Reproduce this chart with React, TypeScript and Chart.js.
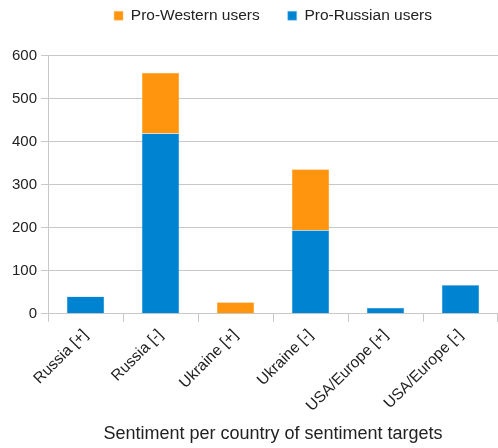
import React, { useEffect, useRef } from "react";
import { Chart, registerables } from "chart.js";

Chart.register(...registerables);

const categories = [
  "Russia [+]",
  "Russia [-]",
  "Ukraine [+]",
  "Ukraine [-]",
  "USA/Europe [+]",
  "USA/Europe [-]",
];
const proRussian = [40, 419, 0, 194, 14, 67];
const proWestern = [0, 141, 27, 142, 0, 0];
const yTicks = [0, 100, 200, 300, 400, 500, 600];

const FONT = "'Liberation Sans', Arial, sans-serif";
const TEXT = "#222";
const GRID = "#c8c8c8";

// Adds extra room between the legend and the plot area.
const legendGap = {
  id: "legendGap",
  beforeInit(chart: any) {
    const legend = chart.legend;
    if (!legend) return;
    const fit = legend.fit;
    legend.fit = function () {
      fit.call(this);
      this.height += 22;
    };
  },
};

export default function App() {
  const ref = useRef<HTMLCanvasElement>(null);

  useEffect(() => {
    document.body.style.margin = "0";
    const canvas = ref.current;
    if (!canvas) return;
    const chart = new Chart(canvas, {
      type: "bar",
      data: {
        labels: categories,
        datasets: [
          {
            label: "Pro-Russian users",
            data: proRussian,
            backgroundColor: "#0084d1",
            borderColor: "#8cc4ea",
            borderWidth: 0.5,
          },
          {
            label: "Pro-Western users",
            data: proWestern,
            backgroundColor: "#ff950e",
            borderColor: "#ffcb8a",
            borderWidth: 0.5,
          },
        ],
      },
      plugins: [legendGap],
      options: {
        animation: false,
        responsive: false,
        layout: { padding: { top: -20, left: 8, right: 0, bottom: 3 } },
        datasets: {
          bar: { categoryPercentage: 1, barPercentage: 0.5 },
        },
        plugins: {
          tooltip: { enabled: false },
          legend: {
            position: "top",
            fullSize: false,
            reverse: true,
            labels: {
              boxWidth: 9,
              boxHeight: 9,
              padding: 28,
              color: TEXT,
              font: { family: FONT, size: 15.5 },
            },
          },
        },
        scales: {
          x: {
            stacked: true,
            grid: {
              drawOnChartArea: false,
              drawTicks: true,
              tickLength: 8,
              color: GRID,
            },
            border: { color: GRID },
            ticks: {
              minRotation: 45,
              maxRotation: 45,
              color: TEXT,
              font: { family: FONT, size: 15.5 },
              padding: 4,
            },
            title: {
              display: true,
              text: "Sentiment per country of sentiment targets",
              color: TEXT,
              font: { family: FONT, size: 18 },
              padding: { top: 4, bottom: 0 },
            },
          },
          y: {
            stacked: true,
            min: 0,
            max: 600,
            afterBuildTicks: (axis: any) => {
              axis.ticks = yTicks.map((v) => ({ value: v }));
            },
            grid: { color: GRID, tickLength: 7 },
            border: { color: GRID },
            ticks: {
              color: TEXT,
              font: { family: FONT, size: 15 },
              padding: 4,
            },
          },
        },
      },
    });
    return () => chart.destroy();
  }, []);

  return <canvas ref={ref} width={498} height={448} style={{ display: "block" }} />;
}
